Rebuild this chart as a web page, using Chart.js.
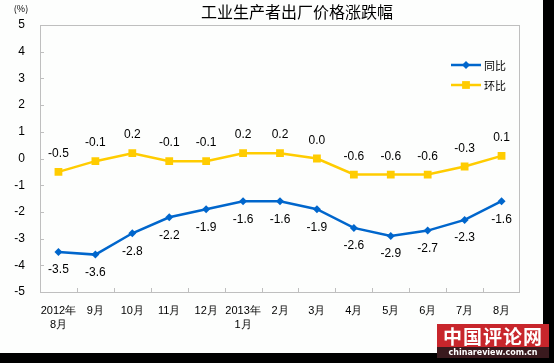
<!DOCTYPE html>
<html>
<head>
<meta charset="utf-8">
<script src="https://cdn.jsdelivr.net/npm/chart.js@4/dist/chart.umd.min.js"></script>
<style>
  html, body { margin: 0; padding: 0; background: #000; }
  #wrap { position: relative; width: 554px; height: 363px; background: #000; overflow: hidden; }
  #box { position: absolute; left: 0; top: 0; width: 543px; height: 353px; background: #fdfefd; }
  #mark { position: absolute; left: 437px; top: 324px; width: 112px; height: 34px; }
  #mark .top { height: 23px; background: #c8262c; color: #fff; font: bold 19px "Noto Sans CJK SC"; letter-spacing: 1px; text-align: center; line-height: 23px; }
  #mark .bot { height: 11px; background: #3a1a1e; color: #fff; font: bold 8px "DejaVu Sans"; text-align: center; line-height: 11px; }
</style>
</head>
<body>
<div id="wrap">
  <div id="box"><canvas id="c" width="543" height="353"></canvas></div>
  <div id="mark"><div class="top">中国评论网</div><div class="bot">chinareview.com.cn</div></div>
</div>
<script>
// 月份
const categories = [['2012年', '8月'], '9月', '10月', '11月', '12月', ['2013年', '1月'], '2月', '3月', '4月', '5月', '6月', '7月', '8月'];
// 同比 / 环比
const yoy = [-3.5, -3.6, -2.8, -2.2, -1.9, -1.6, -1.6, -1.9, -2.6, -2.9, -2.7, -2.3, -1.6];
const mom = [-0.5, -0.1, 0.2, -0.1, -0.1, 0.2, 0.2, 0.0, -0.6, -0.6, -0.6, -0.3, 0.1];
const yTicks = [-5, -4, -3, -2, -1, 0, 1, 2, 3, 4, 5];

const numFont = '"Liberation Sans", Arial, sans-serif';
const cjkFont = '"Noto Sans CJK SC", sans-serif';

// 边框、刻度、标题、图例、数据标签
const decor = {
    id: 'decor',
    beforeDatasetsDraw(chart) {
        const { ctx, chartArea: a, scales } = chart;
        ctx.save();
        ctx.strokeStyle = '#bfbfbf';
        ctx.lineWidth = 1;
        ctx.strokeRect(a.left + 0.5, a.top + 0.5, a.right - a.left - 1, a.bottom - a.top);
        ctx.beginPath();
        yTicks.forEach(v => {
            const y = Math.round(scales.y.getPixelForValue(v)) + 0.5;
            ctx.moveTo(a.left, y); ctx.lineTo(a.left + 4, y);
        });
        for (let i = 1; i < categories.length; i++) {
            const x = Math.round((scales.x.getPixelForValue(i - 1) + scales.x.getPixelForValue(i)) / 2) + 0.5;
            ctx.moveTo(x, a.bottom); ctx.lineTo(x, a.bottom - 4);
        }
        ctx.stroke();
        ctx.restore();
    },
    afterDraw(chart) {
        const { ctx } = chart;
        ctx.save();
        ctx.fillStyle = '#000';
        ctx.textAlign = 'center';
        ctx.textBaseline = 'middle';
        ctx.font = '16px ' + cjkFont;
        ctx.fillText('工业生产者出厂价格涨跌幅', 297, 12);
        ctx.font = '9px ' + cjkFont;
        ctx.fillText('(%)', 21, 9);

        // 数据标签
        ctx.font = '12px ' + numFont;
        chart.data.datasets.forEach((ds, i) => {
            const meta = chart.getDatasetMeta(i);
            meta.data.forEach((pt, j) => {
                const dy = ds.labelBelow ? 18 : -18;
                ctx.fillText(ds.data[j].toFixed(1), pt.x, pt.y + dy);
            });
        });

        // 图例
        ctx.textAlign = 'left';
        ctx.font = '11px ' + cjkFont;
        chart.data.datasets.forEach((ds, i) => {
            const y = 65 + i * 20;
            ctx.strokeStyle = ds.borderColor;
            ctx.lineWidth = ds.borderWidth;
            ctx.beginPath();
            ctx.moveTo(451, y); ctx.lineTo(481, y);
            ctx.stroke();
            ctx.fillStyle = ds.pointBackgroundColor;
            Chart.helpers.drawPoint(ctx, { pointStyle: ds.pointStyle, radius: ds.pointRadius, borderWidth: 0 }, 466, y);
            ctx.fillStyle = '#000';
            ctx.fillText(ds.label, 484, y + 1);
        });
        ctx.restore();
    }
};

new Chart(document.getElementById('c'), {
    type: 'line',
    data: {
        labels: categories,
        datasets: [{
            label: '同比',
            data: yoy,
            borderColor: '#0066cc',
            backgroundColor: '#0066cc',
            pointBackgroundColor: '#0066cc',
            pointBorderWidth: 0,
            borderWidth: 2.5,
            pointStyle: 'rectRot',
            pointRadius: 4,
            labelBelow: true
        }, {
            label: '环比',
            data: mom,
            borderColor: '#ffcc00',
            backgroundColor: '#ffcc00',
            pointBackgroundColor: '#ffcc00',
            pointBorderWidth: 0,
            borderWidth: 2.5,
            pointStyle: 'rect',
            pointRadius: 5.5,
            labelBelow: false
        }]
    },
    options: {
        responsive: false,
        animation: false,
        layout: { padding: { top: 25, right: 23, left: 0, bottom: 0 } },
        plugins: { legend: { display: false }, title: { display: false }, tooltip: { enabled: false } },
        scales: {
            x: {
                offset: true,
                grid: { display: false, drawTicks: false },
                border: { display: false },
                ticks: { color: '#000', font: { family: numFont, size: 11, lineHeight: 1.25 }, padding: 12, maxRotation: 0, autoSkip: false },
                afterFit(s) { s.height = 61; }
            },
            y: {
                min: -5, max: 5,
                grid: { display: false, drawTicks: false },
                border: { display: false },
                ticks: { stepSize: 1, color: '#000', font: { family: numFont, size: 12 }, padding: 15 },
                afterFit(s) { s.width = 40; }
            }
        }
    },
    plugins: [decor]
});
</script>
</body>
</html>
